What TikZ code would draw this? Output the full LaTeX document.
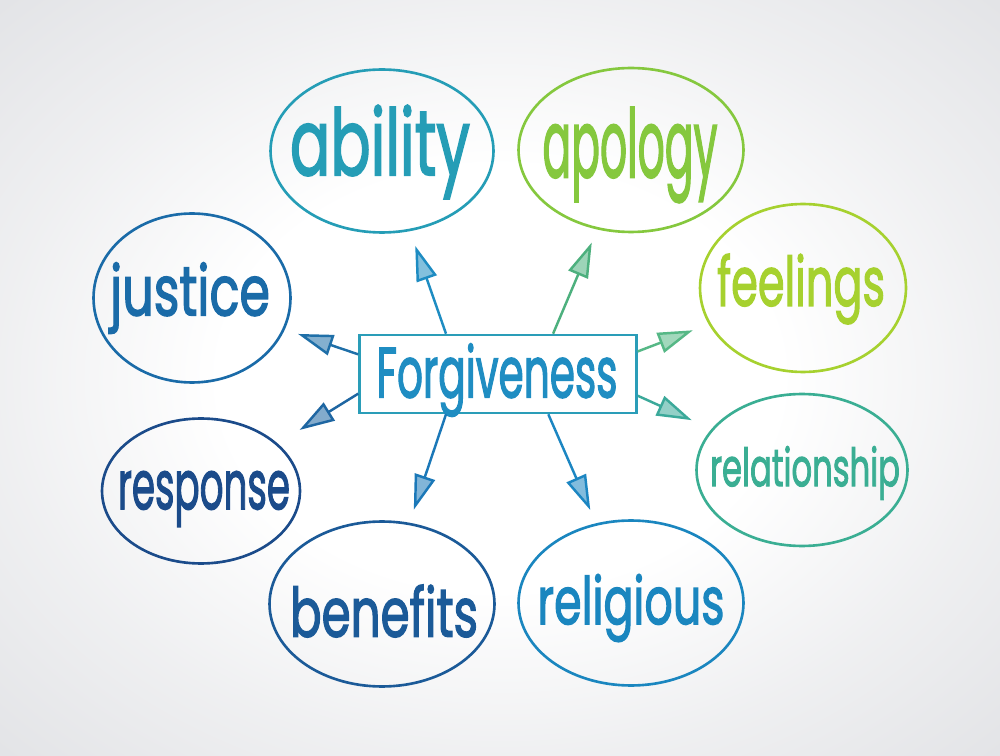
\documentclass[tikz,border=0pt]{standalone}
\usepackage{fontspec}
\setmainfont{Poppins}
\newfontfamily\markerfont{Poppins}[FakeBold=2.2]
\usepackage{graphicx}
\usetikzlibrary{arrows.meta,positioning,shapes.geometric,calc}
\definecolor{bggray}{HTML}{E2E3E6}
\definecolor{responseink}{HTML}{1B4B8A}
\definecolor{benefitsink}{HTML}{1B5A98}
\definecolor{justiceink}{HTML}{1A6BA8}
\definecolor{religiousink}{HTML}{1A86BF}
\definecolor{abilityink}{HTML}{259DB6}
\definecolor{forgink}{HTML}{1F8DC2}
\definecolor{forgstroke}{HTML}{2A9DB8}
\definecolor{apologyink}{HTML}{85C83E}
\definecolor{feelingsink}{HTML}{A6D12F}
\definecolor{relationink}{HTML}{3AAE93}
\definecolor{abilityarrow}{HTML}{1E8CC2}
\definecolor{apologyarrow}{HTML}{4DB07E}
\definecolor{justicearrow}{HTML}{1F6FA8}
\definecolor{responsearrow}{HTML}{1E66A2}
\definecolor{feelingsarrow}{HTML}{56B886}
\definecolor{relationarrow}{HTML}{3BA99A}
\definecolor{benefitsarrow}{HTML}{1B78B8}
\definecolor{religiousarrow}{HTML}{1C86C2}
\pgfdeclareradialshading{softbg}{\pgfpoint{0bp}{0bp}}{%
  color(0bp)=(white); color(14bp)=(white); color(25bp)=(bggray!55);
  color(36bp)=(bggray); color(50bp)=(bggray)}
\newcommand{\hwrite}[3]{\resizebox{#1}{#2}{#3}}

\begin{document}
\begin{tikzpicture}[
  x=0.02cm,
  y=-0.02cm,
  bubble/.style={
    ellipse,
    draw=#1,
    line width=1.5pt,
    inner sep=0pt
  },
  word/.style={
    text=#1,
    inner sep=0pt,
    font=\markerfont
  },
  centerbox/.style={
    rectangle,
    draw=forgstroke,
    line width=1.5pt,
    minimum width=5.54cm,
    minimum height=1.56cm
  },
  sketcharrow/.style={
    draw=#1,
    line width=1.4pt,
    -{Triangle[length=7mm,width=4.2mm,fill=#1!55]}
  }
]

\shade[shading=softbg] (0,0) rectangle (1000,756);
\useasboundingbox (0,0) rectangle (1000,756);

% Centre
\node[centerbox] (forg) at (498,374) {};
\node[word=forgink] (forg-t) at (497,380) {\hwrite{4.82cm}{1.08cm}{Forgiveness}};

% Top row
\node[bubble=abilityink, minimum width=4.46cm, minimum height=3.26cm] (ability) at (382,151) {};
\node[word=abilityink] (ability-t) at (380,152) {\hwrite{3.6cm}{1.4cm}{ability}};
\node[bubble=apologyink, minimum width=4.5cm, minimum height=3.28cm] (apology) at (631,150) {};
\node[word=apologyink] (apology-t) at (630,155) {\hwrite{3.5cm}{1.4cm}{apology}};

% Left side
\node[bubble=justiceink, minimum width=3.94cm, minimum height=3.38cm] (justice) at (192,298) {};
\node[word=justiceink] (justice-t) at (190,298) {\hwrite{3.2cm}{1.06cm}{justice}};
\node[bubble=responseink, minimum width=3.96cm, minimum height=2.9cm] (response) at (201,491) {};
\node[word=responseink] (response-t) at (204,499) {\hwrite{3.44cm}{0.76cm}{response}};

% Right side
\node[bubble=feelingsink, minimum width=4.12cm, minimum height=3.36cm] (feelings) at (803,288) {};
\node[word=feelingsink] (feelings-t) at (801,289) {\hwrite{3.36cm}{1.04cm}{feelings}};
\node[bubble=relationink, minimum width=4.22cm, minimum height=3.04cm] (relation) at (802,470) {};
\node[word=relationink] (relation-t) at (805,473) {\hwrite{3.8cm}{0.8cm}{relationship}};

% Bottom row
\node[bubble=benefitsink, minimum width=4.5cm, minimum height=3.3cm] (benefits) at (382,604) {};
\node[word=benefitsink] (benefits-t) at (384,611) {\hwrite{3.76cm}{1.04cm}{benefits}};
\node[bubble=religiousink, minimum width=4.5cm, minimum height=3.3cm] (religious) at (631,603) {};
\node[word=religiousink] (religious-t) at (631,608) {\hwrite{3.74cm}{1.0cm}{religious}};

% Arrows out of the centre box
\draw[sketcharrow=abilityarrow, shorten >=2.01cm] ($(forg.north west)!0.314!(forg.north east)$) -- (ability.center);
\draw[sketcharrow=apologyarrow, shorten >=2.01cm] ($(forg.north west)!0.697!(forg.north east)$) -- (apology.center);
\draw[sketcharrow=justicearrow, shorten >=2.24cm] ($(forg.north west)!0.256!(forg.south west)$) -- (justice.center);
\draw[sketcharrow=responsearrow, shorten >=2.32cm] ($(forg.north west)!0.744!(forg.south west)$) -- (response.center);
\draw[sketcharrow=feelingsarrow, shorten >=2.36cm] ($(forg.north east)!0.22!(forg.south east)$) -- (feelings.center);
\draw[sketcharrow=relationarrow, shorten >=2.42cm] ($(forg.north east)!0.77!(forg.south east)$) -- (relation.center);
\draw[sketcharrow=benefitsarrow, shorten >=1.99cm] ($(forg.south west)!0.314!(forg.south east)$) -- (benefits.center);
\draw[sketcharrow=religiousarrow, shorten >=2.03cm] ($(forg.south west)!0.68!(forg.south east)$) -- (religious.center);

\end{tikzpicture}
\end{document}
